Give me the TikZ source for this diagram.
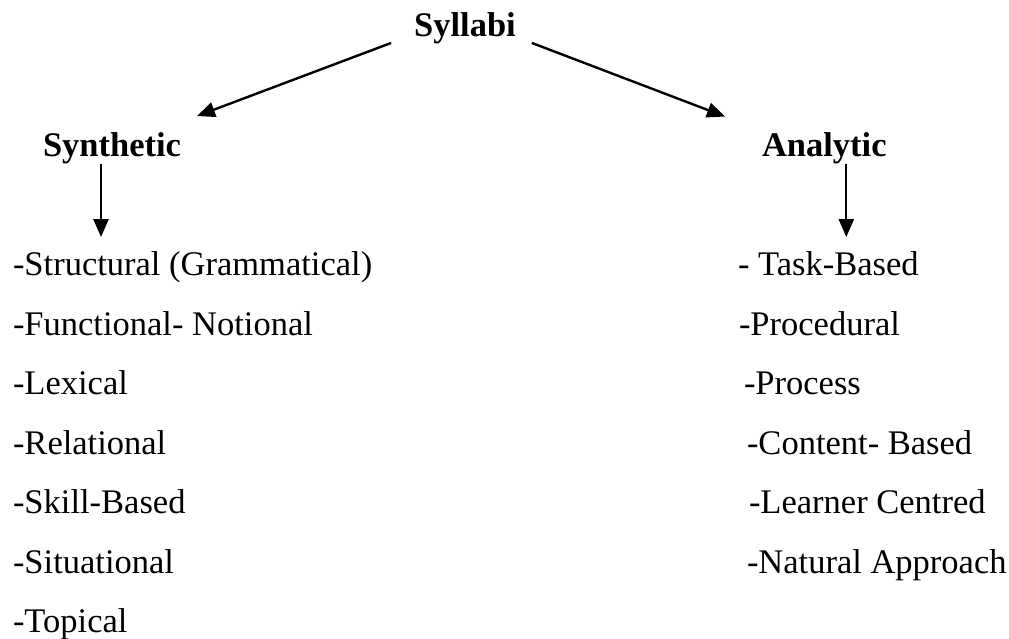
\documentclass[tikz,border=0pt]{standalone}
\usepackage{fontspec}
\setmainfont{Liberation Serif}
\usetikzlibrary{arrows.meta,calc}
\tikzset{
  head/.style={font=\fontsize{34.5}{40}\selectfont\bfseries, inner sep=0, outer sep=0},
  item/.style={font=\fontsize{34.5}{40}\selectfont, inner sep=0, outer sep=0, anchor=base west},
  arr/.style={-{Triangle[length=18pt,width=15pt]}, line width=2.4pt},
}
\begin{document}
\begin{tikzpicture}[x=1pt,y=1pt]
  \useasboundingbox (0,0) rectangle (1009,639);
  \node[head,anchor=base] (syl) at (465,602) {Syllabi};
  \node[head,anchor=base west] (syn) at (43,482) {Synthetic};
  \node[head,anchor=base west] (ana) at (762,482) {Analytic};
  % synthetic list
  \foreach \t [count=\i] in {{-Structural (Grammatical)},{-Functional- Notional},{-Lexical},
      {-Relational},{-Skill-Based},{-Situational},{-Topical}}
    \node[item] (s\i) at (13,{363-59.5*(\i-1)}) {\t};
  % analytic list
  \foreach \x/\t [count=\i] in {738/{- Task-Based},739/{-Procedural},744/{-Process},
      747/{-Content- Based},749/{-Learner Centred},747/{-Natural Approach}}
    \node[item] (a\i) at (\x,{363-59.5*(\i-1)}) {\t};
  \draw[arr] ($(syl.south west)+(-23,1.5)$) -- ($(syn.north east)+(16,17)$);
  \draw[arr] ($(syl.south east)+(16,1.5)$) -- ($(ana.north west)+(-37,16.5)$);
  \draw[arr] ($(syn.south)+(-11,0)$) -- ($(syn.south |- s1.north)+(-11,15)$);
  \draw[arr] ($(ana.south)+(22,0)$) -- ($(ana.south |- a1.north)+(22,15)$);
\end{tikzpicture}
\end{document}
